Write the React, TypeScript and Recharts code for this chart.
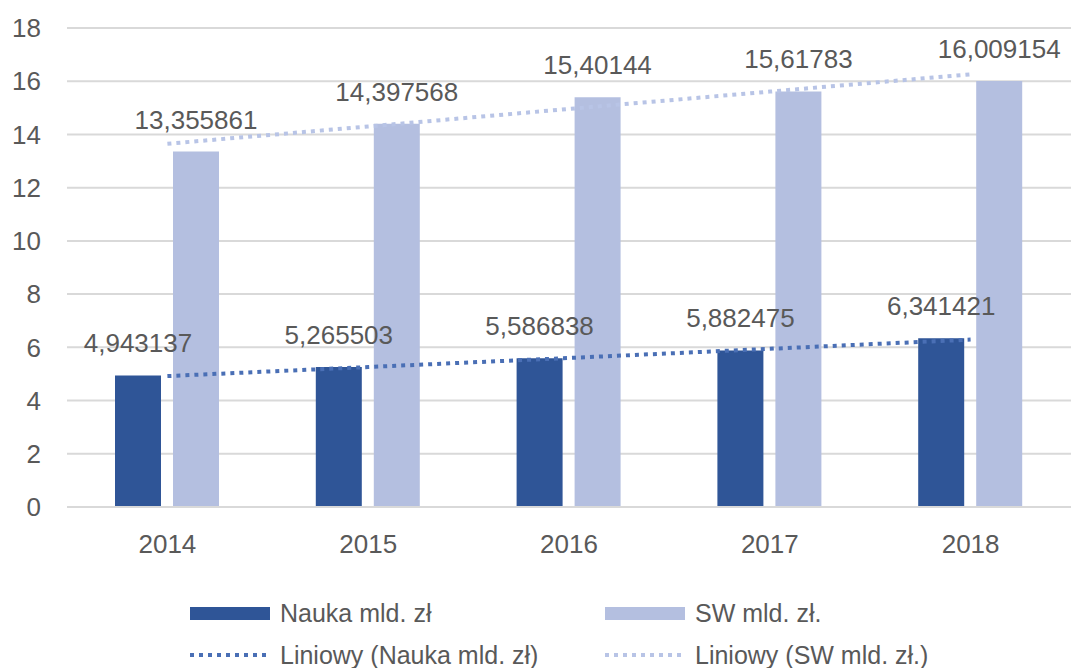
import {
  Bar,
  CartesianGrid,
  ComposedChart,
  LabelList,
  Legend,
  Line,
  XAxis,
  YAxis,
} from "recharts";

const years = ["2014", "2015", "2016", "2017", "2018"];
const nauka = [4.943137, 5.265503, 5.586838, 5.882475, 6.341421];
const sw = [13.355861, 14.397568, 15.40144, 15.61783, 16.009154];
// trendline values at each category
const naukaTrend = [4.92, 5.26, 5.6, 5.945, 6.29];
const swTrend = [13.65, 14.3, 14.96, 15.61, 16.26];
const yTicks = [0, 2, 4, 6, 8, 10, 12, 14, 16, 18];

const data = years.map((year, i) => ({
  year,
  nauka: nauka[i],
  sw: sw[i],
  naukaTrend: naukaTrend[i],
  swTrend: swTrend[i],
}));

const DARK = "#2f5597";
const LIGHT = "#b4bfe0";
const TEXT = "#595959";
const FONT = "'Liberation Sans', Arial, sans-serif";

const fmt = (v: unknown) => String(v).replace(".", ",");

const legendItems = [
  { label: "Nauka mld. zł", color: DARK, kind: "bar", x: 190, y: 0 },
  { label: "SW mld. zł.", color: LIGHT, kind: "bar", x: 605, y: 0 },
  { label: "Liniowy (Nauka mld. zł)", color: "#4a6fb5", kind: "line", x: 190, y: 42 },
  { label: "Liniowy (SW mld. zł.)", color: "#b8c4e6", kind: "line", x: 605, y: 42 },
];

function renderLegend() {
  return (
    <svg width={1071} height={90} style={{ display: "block" }}>
      {legendItems.map((it) => (
        <g key={it.label} transform={`translate(${it.x},${it.y + 35})`}>
          {it.kind === "bar" ? (
            <rect x={0} y={-6} width={80} height={13} fill={it.color} />
          ) : (
            <line x1={0} y1={0} x2={80} y2={0} stroke={it.color} strokeWidth={4} strokeDasharray="4 5" />
          )}
          <text x={90} y={0} dy="0.35em" fill={TEXT} fontSize={25} fontFamily={FONT}>
            {it.label}
          </text>
        </g>
      ))}
    </svg>
  );
}

export default function App() {
  return (
    <div style={{ position: "absolute", left: 0, top: 0, background: "#fff" }}>
      <ComposedChart
        width={1071}
        height={668}
        data={data}
        margin={{ top: 28, right: 0, left: 0, bottom: 0 }}
        barSize={46}
        barGap={12}
      >
        <CartesianGrid vertical={false} stroke="#d9d9d9" strokeWidth={2} />
        <XAxis
          dataKey="year"
          height={71}
          tickLine={false}
          axisLine={{ stroke: "#d9d9d9", strokeWidth: 2 }}
          tickMargin={22}
          tick={{ fontSize: 26, fill: TEXT, fontFamily: FONT }}
        />
        <YAxis
          width={67}
          domain={[0, 18]}
          ticks={yTicks}
          interval={0}
          tickLine={false}
          axisLine={false}
          tickMargin={20}
          tick={{ fontSize: 26, fill: TEXT, fontFamily: FONT }}
        />
        <Legend verticalAlign="bottom" height={90} content={renderLegend} />
        <Bar dataKey="nauka" name="Nauka mld. zł" fill={DARK} isAnimationActive={false}>
          <LabelList
            dataKey="nauka"
            position="top"
            offset={23}
            formatter={fmt}
            style={{ fontSize: 26, fill: TEXT, fontFamily: FONT }}
          />
        </Bar>
        <Bar dataKey="sw" name="SW mld. zł." fill={LIGHT} isAnimationActive={false}>
          <LabelList
            dataKey="sw"
            position="top"
            offset={23}
            formatter={fmt}
            style={{ fontSize: 26, fill: TEXT, fontFamily: FONT }}
          />
        </Bar>
        <Line
          dataKey="naukaTrend"
          name="Liniowy (Nauka mld. zł)"
          stroke="#4a6fb5"
          strokeWidth={4}
          strokeDasharray="4 5"
          dot={false}
          activeDot={false}
          isAnimationActive={false}
        />
        <Line
          dataKey="swTrend"
          name="Liniowy (SW mld. zł.)"
          stroke="#b8c4e6"
          strokeWidth={4}
          strokeDasharray="4 5"
          dot={false}
          activeDot={false}
          isAnimationActive={false}
        />
      </ComposedChart>
    </div>
  );
}
